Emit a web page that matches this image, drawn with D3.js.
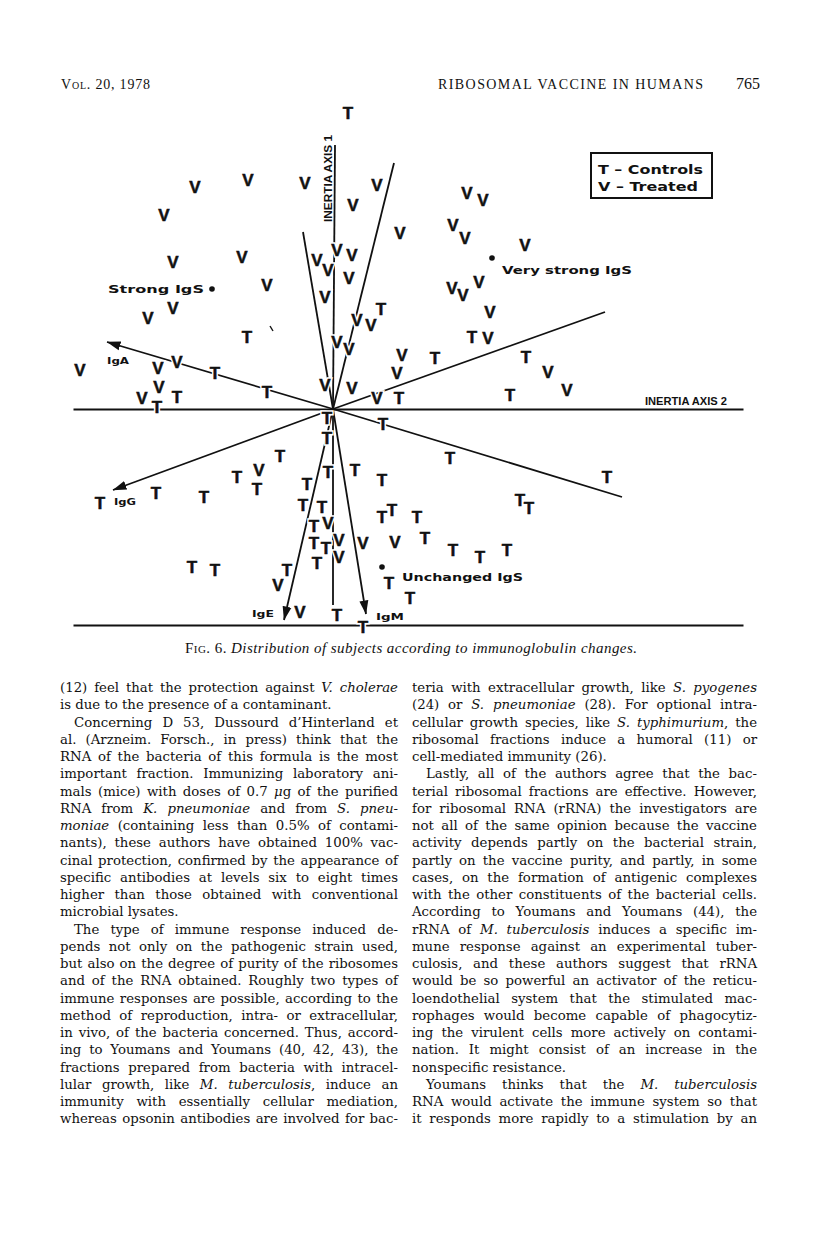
<!DOCTYPE html>
<html><head><meta charset="utf-8">
<script src="https://cdn.jsdelivr.net/npm/d3@7"></script>
<style>
body{margin:0;background:#fff;}
svg{display:block;}
</style></head><body>
<svg id="page" width="816" height="1241"></svg>
<script>
// ---------- DATA (inertia-plane coordinates, arbitrary units) ----------
const controls = [ // "T"
 [1.5,29.6],[4.8,10.0],[-8.6,7.2],[13.9,7.2],[10.2,5.1],[19.3,5.2],[-11.8,3.6],[-6.6,1.7],
 [-15.6,1.2],[-17.6,0.2],[6.6,1.1],[17.7,1.4],[-0.6,-0.9],[5.0,-1.5],[-0.6,-2.9],[-5.3,-4.7],
 [11.7,-4.9],[27.4,-6.8],[-9.6,-6.8],[-7.6,-8.0],[-0.5,-6.3],[2.2,-6.1],[4.9,-7.1],[-2.6,-7.5],
 [-23.3,-9.4],[-17.7,-8.4],[-12.9,-8.8],[-3.0,-9.6],[-1.1,-9.8],[18.7,-9.1],[19.6,-9.9],[4.9,-10.8],
 [5.9,-10.1],[8.4,-10.8],[-1.9,-11.7],[-1.9,-13.4],[-0.7,-13.9],[9.2,-12.9],[12.0,-14.1],[14.7,-14.8],
 [17.4,-14.1],[-1.6,-15.4],[-14.1,-15.8],[-11.8,-16.1],[-4.6,-16.1],[5.6,-17.4],[7.7,-18.9],[0.4,-20.6],
 [3.0,-21.8]
];
const treated = [ // "V"
 [-13.8,22.2],[-8.5,22.9],[-2.8,22.6],[4.4,22.4],[2.0,20.4],[13.4,21.6],[15.0,20.9],[-16.9,19.4],
 [6.7,17.6],[12.0,18.4],[13.2,17.1],[19.2,16.4],[-16.0,14.7],[-9.1,15.2],[-1.6,14.9],[0.4,15.9],
 [1.9,15.4],[-0.5,13.9],[1.6,13.1],[-6.6,12.4],[11.9,12.1],[13.0,11.4],[14.6,12.7],[-0.8,11.2],
 [-16.0,10.1],[-18.5,9.1],[15.7,9.7],[2.4,8.9],[3.8,8.4],[0.4,6.7],[1.6,6.0],[15.5,7.1],
 [-25.3,3.9],[-17.5,4.1],[-15.6,4.7],[6.9,5.4],[-17.4,2.2],[-19.1,1.1],[6.4,3.6],[21.5,3.7],
 [-0.8,2.4],[1.9,2.1],[4.4,1.1],[23.4,1.9],[-7.4,-6.1],[-0.5,-11.4],[0.6,-13.1],[0.6,-14.8],
 [3.0,-13.4],[6.2,-13.3],[-5.5,-17.6],[-3.3,-20.3]
];
// vectors drawn from the origin
const vectorEnds = [[0.2,26.4],[-3.0,17.7],[6.1,24.6],[27.2,9.7],[28.9,-8.8],[0.0,-19.6]];
const arrowEnds = [[-22.6,6.7],[-22.0,-8.1],[-4.9,-21.1],[3.3,-20.5]];
const arrowNames = ["IgA","IgG","IgE","IgM"];
const arrowLabelPos = [[-22.6,4.5],[-21.9,-9.6],[-8.1,-20.8],[4.3,-21.1]];
const groupNames = ["Strong IgS","Very strong IgS","Unchanged IgS"];
const groupDots = [[-12.1,12.0],[15.9,15.1],[4.9,-15.8]];
const groupLabelPos = [[-22.5,11.6],[16.9,13.5],[6.9,-17.2]];
const xDomain = [-26, 41];
const yDomain = [-21.6, 29.6];
const axisNames = ["INERTIA AXIS 1","INERTIA AXIS 2"];
const legendItems = ["T \u2013 Controls","V \u2013 Treated"];

const header = {left:"Vol. 20, 1978", mid:"RIBOSOMAL VACCINE IN HUMANS", page:"765"};
const caption = ["Fig. 6.","Distribution of subjects according to immunoglobulin changes."];
const leftColumn = [
"(12) feel that the protection against _V. cholerae_",
"is due to the presence of a contaminant.|",
">Concerning D 53, Dussourd d\u2019Hinterland et",
"al. (Arzneim. Forsch., in press) think that the",
"RNA of the bacteria of this formula is the most",
"important fraction. Immunizing laboratory ani-",
"mals (mice) with doses of 0.7 _\u03bc_g of the purified",
"RNA from _K. pneumoniae_ and from _S. pneu-_",
"_moniae_ (containing less than 0.5% of contami-",
"nants), these authors have obtained 100% vac-",
"cinal protection, confirmed by the appearance of",
"specific antibodies at levels six to eight times",
"higher than those obtained with conventional",
"microbial lysates.|",
">The type of immune response induced de-",
"pends not only on the pathogenic strain used,",
"but also on the degree of purity of the ribosomes",
"and of the RNA obtained. Roughly two types of",
"immune responses are possible, according to the",
"method of reproduction, intra- or extracellular,",
"in vivo, of the bacteria concerned. Thus, accord-",
"ing to Youmans and Youmans (40, 42, 43), the",
"fractions prepared from bacteria with intracel-",
"lular growth, like _M. tuberculosis_, induce an",
"immunity with essentially cellular mediation,",
"whereas opsonin antibodies are involved for bac-"
];
const rightColumn = [
"teria with extracellular growth, like _S. pyogenes_",
"(24) or _S. pneumoniae_ (28). For optional intra-",
"cellular growth species, like _S. typhimurium_, the",
"ribosomal fractions induce a humoral (11) or",
"cell-mediated immunity (26).|",
">Lastly, all of the authors agree that the bac-",
"terial ribosomal fractions are effective. However,",
"for ribosomal RNA (rRNA) the investigators are",
"not all of the same opinion because the vaccine",
"activity depends partly on the bacterial strain,",
"partly on the vaccine purity, and partly, in some",
"cases, on the formation of antigenic complexes",
"with the other constituents of the bacterial cells.",
"According to Youmans and Youmans (44), the",
"rRNA of _M. tuberculosis_ induces a specific im-",
"mune response against an experimental tuber-",
"culosis, and these authors suggest that rRNA",
"would be so powerful an activator of the reticu-",
"loendothelial system that the stimulated mac-",
"rophages would become capable of phagocytiz-",
"ing the virulent cells more actively on contami-",
"nation. It might consist of an increase in the",
"nonspecific resistance.|",
">Youmans thinks that the _M. tuberculosis_",
"RNA would activate the immune system so that",
"it responds more rapidly to a stimulation by an"
];

// ---------- DRAWING ----------
const svg = d3.select("#page");
const serif = "'DejaVu Serif','Liberation Serif',serif";
const serif2 = "'Liberation Serif','Times New Roman',serif";
const sansB = "'Liberation Sans',Arial,sans-serif";
const wide = "'DejaVu Sans',sans-serif";

const x = d3.scaleLinear().domain(xDomain).range([73, 743]);
const y = d3.scaleLinear().domain(yDomain).range([625, 113]);

const chart = svg.append("g");

svg.append("defs").append("marker")
  .attr("id","ah").attr("markerUnits","userSpaceOnUse")
  .attr("viewBox","0 0 14 10").attr("markerWidth",14).attr("markerHeight",10)
  .attr("refX",13.5).attr("refY",5).attr("orient","auto")
  .append("path").attr("d","M0,0.5 L14,5 L0,9.5 Z").attr("fill","#111");

// horizontal axis 2 and bottom rule via d3 axes (no ticks)
[0, yDomain[0]].forEach(v => {
  const g = chart.append("g").attr("transform",`translate(0,${y(v)})`)
    .call(d3.axisBottom(x).tickValues([]).tickSizeOuter(0));
  g.select(".domain").attr("stroke","#111").attr("stroke-width",2);
});

chart.append("g").selectAll("line").data(vectorEnds).join("line")
  .attr("x1",x(0)).attr("y1",y(0)).attr("x2",d=>x(d[0])).attr("y2",d=>y(d[1]))
  .attr("stroke","#111").attr("stroke-width",1.8);
chart.append("g").selectAll("line").data(arrowEnds).join("line")
  .attr("x1",x(0)).attr("y1",y(0)).attr("x2",d=>x(d[0])).attr("y2",d=>y(d[1]))
  .attr("stroke","#111").attr("stroke-width",1.8).attr("marker-end","url(#ah)");

chart.append("line").attr("x1",x(-6.3)).attr("y1",y(8.3)).attr("x2",x(-6.0)).attr("y2",y(7.8))
  .attr("stroke","#111").attr("stroke-width",1.4);

const pts = controls.map(d=>({x:d[0],y:d[1],c:"T"})).concat(treated.map(d=>({x:d[0],y:d[1],c:"V"})));
const fs = 17;
const halo = chart.append("g"), glyph = chart.append("g");
[halo, glyph].forEach((g,i) => {
  g.selectAll("text").data(pts).join("text")
    .attr("x",d=>x(d.x)).attr("y",d=>y(d.y)+fs*0.36)
    .attr("text-anchor","middle")
    .attr("font-family",sansB).attr("font-weight","bold").attr("font-size",fs)
    .attr("fill", i? "#111" : "#fff")
    .attr("stroke", i? "#111" : "#fff").attr("stroke-width", i?0.5:3.5)
    .text(d=>d.c);
});

chart.append("g").selectAll("text").data(arrowNames).join("text")
  .attr("x",(d,i)=>x(arrowLabelPos[i][0])).attr("y",(d,i)=>y(arrowLabelPos[i][1]))
  .attr("font-family",wide).attr("font-weight","bold").attr("font-size",9.5)
  .attr("textLength",(d,i)=> i===3? 28 : 22).attr("lengthAdjust","spacingAndGlyphs")
  .attr("fill","#111").text(d=>d);

chart.append("g").selectAll("circle").data(groupDots).join("circle")
  .attr("cx",d=>x(d[0])).attr("cy",d=>y(d[1])).attr("r",2.8).attr("fill","#111");
const glw = [96, 130, 121];
chart.append("g").selectAll("text").data(groupNames).join("text")
  .attr("x",(d,i)=>x(groupLabelPos[i][0])).attr("y",(d,i)=>y(groupLabelPos[i][1]))
  .attr("font-family",wide).attr("font-weight","bold").attr("font-size",11)
  .attr("textLength",(d,i)=>glw[i]).attr("lengthAdjust","spacingAndGlyphs")
  .attr("fill","#111").text(d=>d);

chart.append("text").attr("transform",`translate(${x(-0.1)},${y(18.7)}) rotate(-90)`)
  .attr("font-family",sansB).attr("font-weight","bold").attr("font-size",11.5)
  .attr("textLength",87).attr("lengthAdjust","spacingAndGlyphs").attr("fill","#111").text(axisNames[0]);
chart.append("text").attr("x",x(31.2)).attr("y",y(0.4))
  .attr("font-family",sansB).attr("font-weight","bold").attr("font-size",11)
  .attr("textLength",82).attr("lengthAdjust","spacingAndGlyphs").attr("fill","#111").text(axisNames[1]);

const lg = chart.append("g");
lg.append("rect").attr("x",591).attr("y",153).attr("width",121).attr("height",45)
  .attr("fill","#fff").attr("stroke","#111").attr("stroke-width",2);
lg.selectAll("text").data(legendItems).join("text")
  .attr("x",598).attr("y",(d,i)=>174+i*17)
  .attr("font-family",wide).attr("font-weight","bold").attr("font-size",12)
  .attr("textLength",(d,i)=>i?100:105).attr("lengthAdjust","spacingAndGlyphs")
  .attr("fill","#111").text(d=>d);

// ---------- PAGE TEXT ----------
svg.append("text").attr("x",61).attr("y",89).attr("font-family",serif2).attr("font-size",14)
  .style("font-variant","small-caps").attr("textLength",89).attr("fill","#111").text(header.left);
svg.append("text").attr("x",438).attr("y",89).attr("font-family",serif2).attr("font-size",14)
  .attr("textLength",265).attr("fill","#111").text(header.mid);
svg.append("text").attr("x",736).attr("y",89).attr("font-family",serif2).attr("font-size",16)
  .attr("fill","#111").text(header.page);

const cap = svg.append("text").attr("x",185).attr("y",653).attr("font-family",serif2).attr("font-size",15)
  .attr("textLength",452).attr("fill","#111");
cap.append("tspan").style("font-variant","small-caps").text(caption[0]+" ");
cap.append("tspan").attr("font-style","italic").text(caption[1]);

function parseWords(s){
  const runs = s.split("_").map((t,i)=>({t, it: i%2===1}));
  const words = [[]];
  runs.forEach(r=>{
    r.t.split(" ").forEach((p,j)=>{
      if(j>0) words.push([]);
      if(p) words[words.length-1].push({t:p, it:r.it});
    });
  });
  return words.filter(w=>w.length);
}
const bodySize = 13.3;
function drawColumn(lines, x0, x1, yStart, lh){
  const g = svg.append("g").attr("font-family",serif).attr("font-size",bodySize).attr("fill","#111");
  lines.forEach((raw,i)=>{
    let s = raw, indent = 0, last = false;
    if(s.startsWith(">")){ s = s.slice(1); indent = 14; }
    if(s.endsWith("|")){ s = s.slice(0,-1); last = true; }
    const words = parseWords(s);
    const yy = yStart + i*lh;
    const nodes = words.map(w=>{
      const t = g.append("text").attr("y",yy);
      w.forEach(p=>t.append("tspan").attr("font-style",p.it?"italic":null).text(p.t));
      return t;
    });
    let widths = nodes.map(n=>n.node().getComputedTextLength());
    const avail = x1 - x0 - indent;
    const minGap = 3.2, natGap = 4.2;
    let total = widths.reduce((a,b)=>a+b,0);
    const need = total + minGap*(words.length-1);
    if(need > avail){
      const f = (avail - minGap*(words.length-1))/total;
      widths = widths.map(w=>w*f);
      nodes.forEach((n,k)=>n.attr("textLength",widths[k]).attr("lengthAdjust","spacingAndGlyphs"));
      total = widths.reduce((a,b)=>a+b,0);
    }
    const gap = (last || words.length<2) ? natGap : (avail-total)/(words.length-1);
    let cx = x0 + indent;
    nodes.forEach((n,k)=>{ n.attr("x",cx); cx += widths[k] + gap; });
  });
}
drawColumn(leftColumn, 60, 398, 692, 17.25);
drawColumn(rightColumn, 412, 757, 692, 17.25);
</script>
</body></html>
